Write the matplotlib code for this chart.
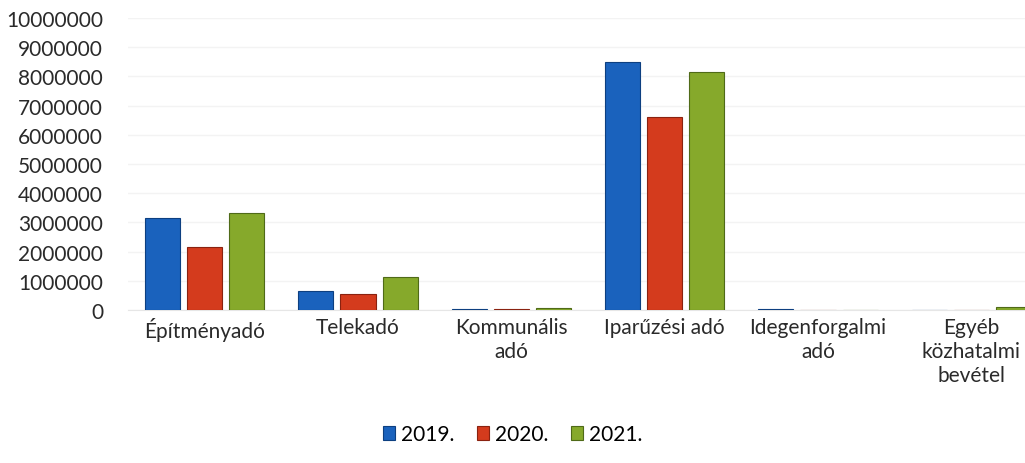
import numpy as np
import matplotlib.pyplot as plt

# --- adatok ---
categories = ["Építményadó", "Telekadó", "Kommunális\nadó", "Iparűzési adó",
              "Idegenforgalmi\nadó", "Egyéb\nközhatalmi\nbevétel"]
v2019 = [3150000, 650000, 50000, 8500000, 30000, 0]
v2020 = [2150000, 550000, 40000, 6600000, 0, 0]
v2021 = [3320000, 1130000, 60000, 8150000, 0, 100000]
years = ["2019.", "2020.", "2021."]
colors = ["#1a62bd", "#d43b1d", "#86a92b"]
edges = ["#0d3f80", "#8a2210", "#4f6a18"]

plt.rcParams['font.family'] = ['Lato', 'DejaVu Sans']

fig = plt.figure(figsize=(10.25, 4.64), dpi=100)
ax = fig.add_axes([128 / 1025, 1 - 311 / 464, 920 / 1025, 292 / 464])

x = np.arange(len(categories))
w = 0.23
for i, (vals, lab) in enumerate(zip([v2019, v2020, v2021], years)):
    ax.bar(x + (i - 1) * 0.275, vals, w, color=colors[i], edgecolor=edges[i],
           linewidth=0.8, label=lab, zorder=3)

ax.set_xlim(-0.5, len(categories) - 0.5)
ax.set_ylim(0, 10000000)
ax.set_yticks(np.arange(0, 10000001, 1000000))
ax.set_yticklabels([str(v) for v in range(0, 10000001, 1000000)], fontsize=15, color="#2a2a2a")
ax.set_xticks(x)
ax.set_xticklabels(categories, fontsize=15, color="#2a2a2a", linespacing=1.25)
ax.tick_params(axis="y", length=0, pad=18)
ax.tick_params(axis="x", length=0, pad=5)
ax.grid(axis="y", color="#f3f3f3", linewidth=1, zorder=0)
for s in ["top", "right", "left"]:
    ax.spines[s].set_visible(False)
ax.spines["bottom"].set_color("#e6e6e6")

fig.legend(loc="lower center", bbox_to_anchor=(0.5, 0.0), ncol=3, frameon=False,
           fontsize=15, handlelength=0.6, handleheight=0.6, handletextpad=0.25,
           columnspacing=1.1)

fig.savefig("out.png", dpi=100)
